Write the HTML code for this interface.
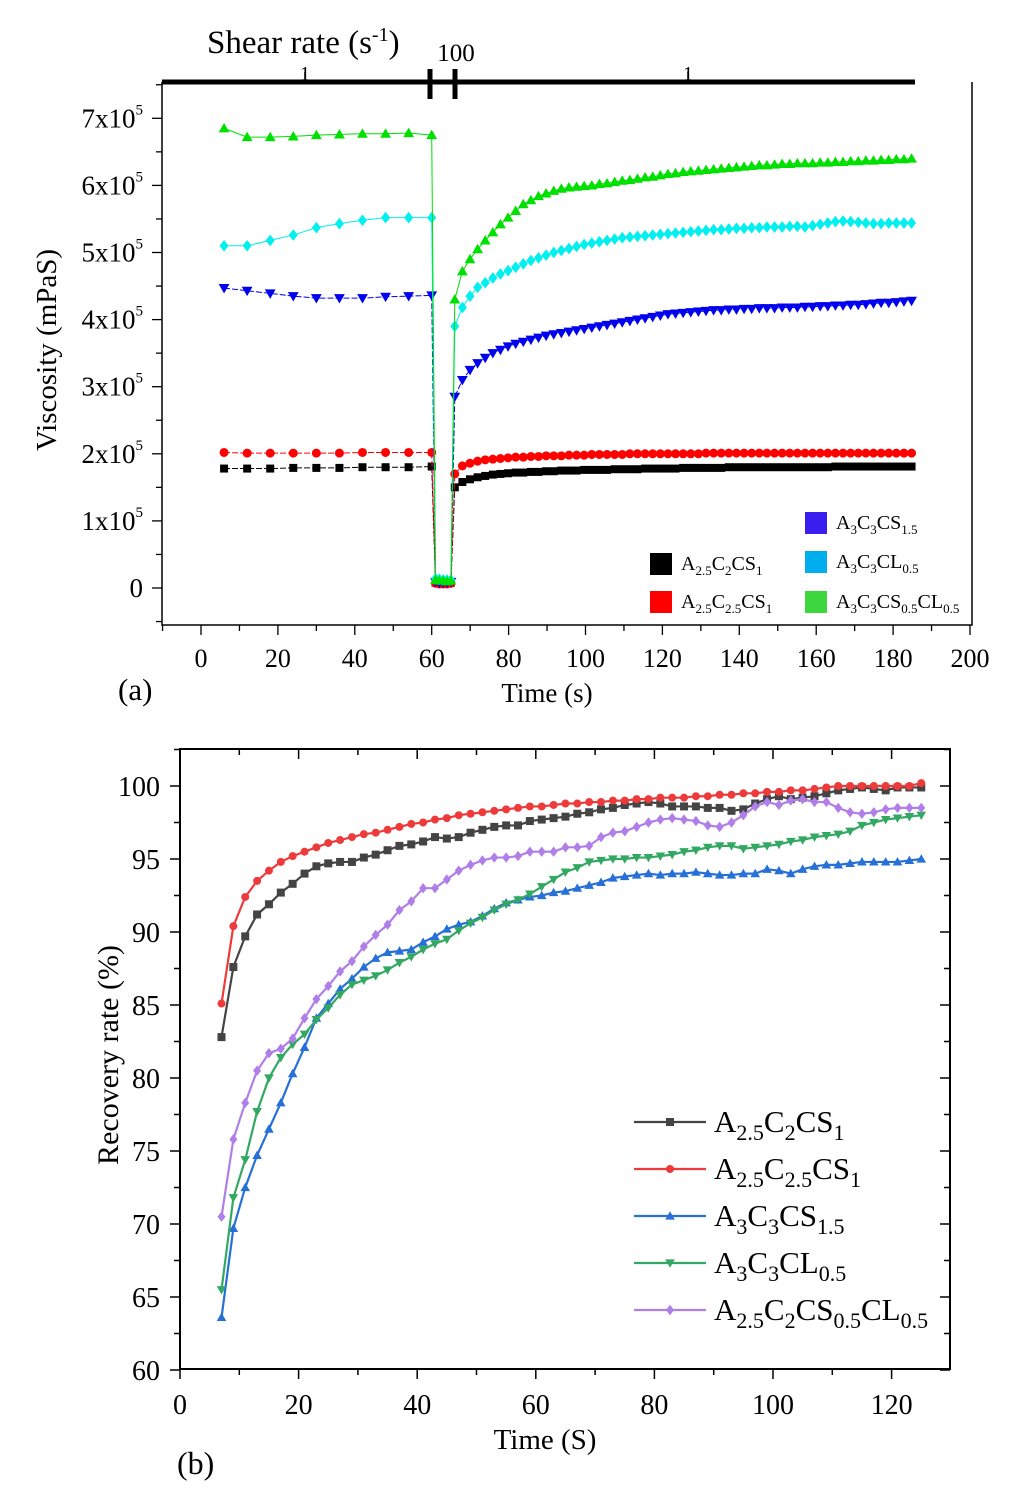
<!DOCTYPE html>
<html><head><meta charset="utf-8">
<style>
html,body{margin:0;padding:0;background:#fff;}
svg{display:block;font-family:"Liberation Serif",serif;}
</style></head>
<body>
<svg id="fig" width="1032" height="1502" viewBox="0 0 1032 1502" xmlns="http://www.w3.org/2000/svg">
<g id="ga"></g>
<g id="gb"></g>
</svg>
<script>
// ---------- Chart (a) data ----------
const aPreTimes = [6,12,18,24,30,36,42,48,54,60];
const aLowTimes = [61,62,63,64,65];
const aRecStart = 66, aRecStep = 1.98;
const aNames = ["A2.5C2CS1","A2.5C2.5CS1","A3C3CS1.5","A3C3CL0.5","A3C3CS0.5CL0.5"];
const aBlackPre = [1.78,1.78,1.78,1.79,1.79,1.79,1.80,1.80,1.80,1.81];
const aRedPre = [2.02,2.01,2.01,2.01,2.01,2.01,2.02,2.02,2.02,2.02];
const aBluePre = [4.47,4.43,4.39,4.35,4.32,4.32,4.32,4.34,4.35,4.36];
const aCyanPre = [5.10,5.10,5.18,5.26,5.37,5.43,5.48,5.52,5.52,5.52];
const aGreenPre = [6.85,6.72,6.72,6.73,6.75,6.76,6.77,6.77,6.78,6.75];
const aBlackLow = [0.08,0.07,0.07,0.07,0.08];
const aRedLow = [0.07,0.06,0.06,0.06,0.07];
const aBlueLow = [0.09,0.08,0.08,0.08,0.09];
const aCyanLow = [0.14,0.13,0.12,0.12,0.12];
const aGreenLow = [0.12,0.11,0.11,0.10,0.11];
const aBlackRec = [1.50,1.58,1.62,1.65,1.67,1.69,1.70,1.71,1.72,1.72,1.73,1.73,1.74,1.74,1.75,1.75,1.75,1.76,1.76,1.76,1.76,1.77,1.77,1.77,1.77,1.78,1.78,1.78,1.78,1.78,1.79,1.79,1.79,1.79,1.79,1.79,1.80,1.80,1.80,1.80,1.80,1.80,1.80,1.80,1.80,1.80,1.80,1.80,1.80,1.80,1.81,1.81,1.81,1.81,1.81,1.81,1.81,1.81,1.81,1.81,1.81];
const aRedRec = [1.70,1.82,1.86,1.89,1.91,1.92,1.93,1.94,1.95,1.95,1.96,1.96,1.97,1.97,1.97,1.98,1.98,1.98,1.99,1.99,1.99,1.99,1.99,2.00,2.00,2.00,2.00,2.00,2.00,2.00,2.00,2.00,2.00,2.01,2.01,2.01,2.01,2.01,2.01,2.01,2.01,2.01,2.01,2.01,2.01,2.01,2.01,2.01,2.01,2.01,2.01,2.01,2.01,2.01,2.01,2.01,2.01,2.01,2.01,2.01,2.01];
const aBlueRec = [2.85,3.10,3.25,3.35,3.43,3.50,3.55,3.60,3.64,3.67,3.70,3.73,3.76,3.78,3.80,3.82,3.84,3.86,3.88,3.90,3.92,3.94,3.96,3.98,4.00,4.02,4.04,4.06,4.08,4.09,4.10,4.11,4.12,4.13,4.14,4.14,4.15,4.15,4.16,4.16,4.17,4.17,4.17,4.18,4.18,4.18,4.19,4.19,4.20,4.20,4.21,4.21,4.22,4.22,4.23,4.24,4.25,4.25,4.26,4.27,4.28];
const aCyanRec = [3.90,4.18,4.35,4.48,4.55,4.62,4.68,4.73,4.78,4.83,4.88,4.92,4.96,5.00,5.03,5.06,5.09,5.12,5.14,5.16,5.18,5.20,5.22,5.23,5.24,5.25,5.26,5.27,5.28,5.29,5.30,5.31,5.32,5.33,5.34,5.34,5.35,5.36,5.36,5.37,5.37,5.38,5.38,5.38,5.39,5.39,5.38,5.40,5.42,5.44,5.46,5.47,5.46,5.45,5.44,5.43,5.43,5.44,5.44,5.44,5.44];
const aGreenRec = [4.30,4.72,4.90,5.05,5.18,5.30,5.42,5.52,5.62,5.72,5.78,5.84,5.88,5.92,5.95,5.97,5.98,5.99,6.00,6.02,6.03,6.05,6.07,6.08,6.10,6.12,6.13,6.15,6.17,6.18,6.20,6.21,6.22,6.23,6.24,6.25,6.26,6.27,6.28,6.29,6.30,6.30,6.31,6.32,6.32,6.33,6.33,6.33,6.34,6.34,6.35,6.35,6.36,6.36,6.37,6.37,6.38,6.38,6.39,6.39,6.40];
const aXTicks = [0,20,40,60,80,100,120,140,160,180,200];
const aYTicks = [0,1,2,3,4,5,6,7];

// ---------- Chart (b) data ----------
const bStart = 7, bStep = 2;
const bBlack = [82.8,87.6,89.7,91.2,91.9,92.7,93.3,94.0,94.5,94.7,94.8,94.8,95.1,95.3,95.6,95.9,96.0,96.2,96.5,96.4,96.5,96.8,97.0,97.2,97.3,97.3,97.6,97.7,97.8,97.9,98.1,98.2,98.4,98.5,98.7,98.8,98.9,98.8,98.6,98.6,98.6,98.5,98.5,98.3,98.4,98.8,99.1,99.3,99.1,99.2,99.3,99.5,99.7,99.8,99.9,99.8,99.7,99.9,99.9,99.9];
const bRed = [85.1,90.4,92.4,93.5,94.2,94.8,95.2,95.5,95.8,96.1,96.3,96.5,96.7,96.8,97.0,97.2,97.4,97.5,97.7,97.8,98.0,98.1,98.2,98.3,98.4,98.5,98.6,98.6,98.7,98.8,98.8,98.9,98.9,99.0,99.0,99.1,99.1,99.2,99.2,99.2,99.3,99.3,99.4,99.4,99.5,99.5,99.6,99.6,99.7,99.7,99.8,99.9,100.0,100.0,100.0,100.0,100.0,100.0,100.0,100.2];
const bBlue = [63.6,69.7,72.5,74.7,76.5,78.3,80.3,82.1,84.1,85.1,86.1,86.8,87.6,88.2,88.6,88.7,88.8,89.3,89.7,90.2,90.5,90.7,91.1,91.6,92.0,92.2,92.4,92.5,92.7,92.8,93.0,93.2,93.4,93.7,93.8,93.9,94.0,93.9,94.0,94.0,94.1,94.0,93.9,93.9,94.0,94.0,94.3,94.2,94.0,94.3,94.5,94.6,94.6,94.7,94.8,94.8,94.8,94.8,94.9,95.0];
const bGreen = [65.5,71.8,74.4,77.7,80.0,81.4,82.3,83.0,84.0,84.8,85.7,86.4,86.7,87.0,87.4,87.9,88.3,88.8,89.2,89.5,90.1,90.6,91.0,91.5,91.9,92.2,92.6,93.1,93.6,94.1,94.4,94.8,94.9,95.0,95.0,95.1,95.1,95.2,95.3,95.5,95.6,95.8,95.9,95.9,95.7,95.8,95.9,96.0,96.2,96.3,96.5,96.6,96.7,96.9,97.3,97.5,97.7,97.8,97.9,98.0];
const bPurple = [70.5,75.8,78.3,80.5,81.7,82.0,82.7,84.1,85.4,86.3,87.3,88.0,89.0,89.8,90.5,91.5,92.1,93.0,93.0,93.6,94.2,94.6,94.9,95.1,95.1,95.2,95.5,95.5,95.5,95.8,95.8,95.9,96.5,96.8,96.9,97.2,97.5,97.7,97.8,97.7,97.6,97.3,97.2,97.5,98.0,98.6,98.9,98.7,99.0,99.1,98.9,98.9,98.5,98.2,98.1,98.2,98.4,98.5,98.5,98.5];
const bXTicks = [0,20,40,60,80,100,120];
const bYTicks = [60,65,70,75,80,85,90,95,100];

const NS = "http://www.w3.org/2000/svg";
function mk(parent, tag, attrs){ const e=document.createElementNS(NS,tag); for(const k in attrs) e.setAttribute(k,attrs[k]); parent.appendChild(e); return e; }
function marker(g, shape, cx, cy, r, fill){
  let e;
  if(shape==="square") e=mk(g,"rect",{x:cx-r,y:cy-r,width:2*r,height:2*r,fill:fill});
  else if(shape==="circle") e=mk(g,"circle",{cx:cx,cy:cy,r:r,fill:fill});
  else if(shape==="up") e=mk(g,"polygon",{points:`${cx},${cy-r*1.2} ${cx-r*1.2},${cy+r*0.9} ${cx+r*1.2},${cy+r*0.9}`,fill:fill});
  else if(shape==="down") e=mk(g,"polygon",{points:`${cx},${cy+r*1.2} ${cx-r*1.2},${cy-r*0.9} ${cx+r*1.2},${cy-r*0.9}`,fill:fill});
  else e=mk(g,"polygon",{points:`${cx},${cy-r*1.3} ${cx+r},${cy} ${cx},${cy+r*1.3} ${cx-r},${cy}`,fill:fill});
  return e;
}

// ===== Chart A =====
(function(){
  const g=document.getElementById("ga");
  const L=162,R=972,T=82,B=625;
  const xa=t=>201+(t)*3.845;
  const ya=v=>588-v*67.1;
  const box=mk(g,"path",{d:`M${L},${T} V${B} H${R} V${T}`,fill:"none",stroke:"#000","stroke-width":1.5});
  
  
  const ta=mk(g,"line",{x1:L,y1:82,x2:915,y2:82,stroke:"#000","stroke-width":5});
  
  
  [430,455].forEach(x=>{ const b=mk(g,"line",{x1:x,y1:69,x2:x,y2:99,stroke:"#000","stroke-width":5});
    
     });
  [305,688].forEach(x=>{ mk(g,"line",{x1:x,y1:72,x2:x,y2:82,stroke:"#000","stroke-width":1.5});
    const t=mk(g,"text",{x:x,y:80,"font-size":20,"text-anchor":"middle"}); t.textContent="1";
    
     });
  const t100=mk(g,"text",{x:456,y:61,"font-size":25,"text-anchor":"middle"}); t100.textContent="100";
  
  
  const st=mk(g,"text",{x:207,y:53,"font-size":33}); st.innerHTML='Shear rate (s<tspan dy="-12" font-size="20">-1</tspan><tspan dy="12">)</tspan>';
  
  
  for(let v=-0.5; v<=7.5; v+=0.5){ const y=ya(v); if(y<T||y>B) continue;
    const maj=Math.abs(v-Math.round(v))<1e-6;
    mk(g,"line",{x1:L-(maj?10:6),y1:y,x2:L,y2:y,stroke:"#000","stroke-width":1.3}); }
  aYTicks.forEach(v=>{ const t=mk(g,"text",{x:v===0?143:143,y:ya(v)+9,"font-size":27,"text-anchor":"end"});
    t.innerHTML = v===0 ? "0" : `${v}x10<tspan dy="-13" font-size="15">5</tspan>`;
    
     });
  for(let v=-10; v<=200; v+=10){ const x=xa(v); if(x<L-1||x>R+1) continue;
    mk(g,"line",{x1:x,y1:B,x2:x,y2:B+(v%20===0?10:6),stroke:"#000","stroke-width":1.3}); }
  aXTicks.forEach(v=>{ const t=mk(g,"text",{x:xa(v),y:667,"font-size":26,"text-anchor":"middle"}); t.textContent=v;
    
     });
  const xt=mk(g,"text",{x:547,y:702,"font-size":27,"text-anchor":"middle"}); xt.textContent="Time (s)";
  
  
  const lab=mk(g,"text",{x:118,y:700,"font-size":31}); lab.textContent="(a)";
  
  
  const yt=mk(g,"text",{x:0,y:0,"font-size":29,"text-anchor":"middle",transform:"translate(56,350) rotate(-90)"}); yt.textContent="Viscosity (mPaS)";
  
  
  const series=[
    {pre:aBlackPre,low:aBlackLow,rec:aBlackRec,c:"#000",s:"square",r:4},
    {pre:aRedPre,low:aRedLow,rec:aRedRec,c:"#ff0000",s:"circle",r:4.5},
    {pre:aBluePre,low:aBlueLow,rec:aBlueRec,c:"#0000ee",s:"down",r:4.5},
    {pre:aCyanPre,low:aCyanLow,rec:aCyanRec,c:"#00f0f0",s:"diamond",r:4.5},
    {pre:aGreenPre,low:aGreenLow,rec:aGreenRec,c:"#00e000",s:"up",r:4.5}];
  series.forEach((sr,i)=>{
    const sg=mk(g,"g",{});
    
    
    const pts=[];
    aPreTimes.forEach((t,j)=>pts.push([xa(t),ya(sr.pre[j])]));
    aLowTimes.forEach((t,j)=>pts.push([xa(t),ya(sr.low[j])]));
    sr.rec.forEach((v,j)=>pts.push([xa(aRecStart+aRecStep*j),ya(v)]));
    const ln=mk(sg,"polyline",{points:pts.map(p=>p.join(",")).join(" "),fill:"none",stroke:sr.c,"stroke-width":1,"stroke-dasharray":i<3?"6,2":"none"});
    
    
    pts.forEach(p=>{ const m=marker(sg,sr.s,p[0],p[1],sr.r,sr.c);
      
       });
  });
  const leg=[[650,553,"#000",'A<tspan dy="5" font-size="13">2.5</tspan><tspan dy="-5">C</tspan><tspan dy="5" font-size="13">2</tspan><tspan dy="-5">CS</tspan><tspan dy="5" font-size="13">1</tspan>'],
    [650,591,"#ff0000",'A<tspan dy="5" font-size="13">2.5</tspan><tspan dy="-5">C</tspan><tspan dy="5" font-size="13">2.5</tspan><tspan dy="-5">CS</tspan><tspan dy="5" font-size="13">1</tspan>'],
    [805,512,"#3a1ef0",'A<tspan dy="5" font-size="13">3</tspan><tspan dy="-5">C</tspan><tspan dy="5" font-size="13">3</tspan><tspan dy="-5">CS</tspan><tspan dy="5" font-size="13">1.5</tspan>'],
    [805,551,"#00aeef",'A<tspan dy="5" font-size="13">3</tspan><tspan dy="-5">C</tspan><tspan dy="5" font-size="13">3</tspan><tspan dy="-5">CL</tspan><tspan dy="5" font-size="13">0.5</tspan>'],
    [805,591,"#3ed63e",'A<tspan dy="5" font-size="13">3</tspan><tspan dy="-5">C</tspan><tspan dy="5" font-size="13">3</tspan><tspan dy="-5">CS</tspan><tspan dy="5" font-size="13">0.5</tspan><tspan dy="-5">CL</tspan><tspan dy="5" font-size="13">0.5</tspan>']];
  leg.forEach(l=>{ const lg=mk(g,"g",{});
    
    
    mk(lg,"rect",{x:l[0],y:l[1],width:22,height:22,fill:l[2]});
    const t=mk(lg,"text",{x:l[0]+31,y:l[1]+17,"font-size":20}); t.innerHTML=l[3]; });
})();

// ===== Chart B =====
(function(){
  const g=document.getElementById("gb");
  const L=180,R=950,T=749,B=1369;
  const xb=t=>180+t*5.93;
  const yb=v=>786+(100-v)*14.6;
  const box=mk(g,"rect",{x:L,y:T,width:R-L,height:B-T,fill:"none",stroke:"#000","stroke-width":2});
  
  
  for(let v=0; v<=125; v+=10){ const x=xb(v); const maj=v%20===0;
    mk(g,"line",{x1:x,y1:B,x2:x,y2:B+(maj?10:6),stroke:"#000","stroke-width":1.5});
    mk(g,"line",{x1:x,y1:T,x2:x,y2:T+(maj?10:6),stroke:"#000","stroke-width":1.5}); }
  for(let v=60; v<=102.5; v+=2.5){ const y=yb(v); const maj=v%5===0;
    mk(g,"line",{x1:L-(maj?10:6),y1:y,x2:L,y2:y,stroke:"#000","stroke-width":1.5});
    mk(g,"line",{x1:R-(maj?10:6),y1:y,x2:R,y2:y,stroke:"#000","stroke-width":1.5}); }
  bXTicks.forEach(v=>{ const t=mk(g,"text",{x:xb(v),y:1414,"font-size":28,"text-anchor":"middle"}); t.textContent=v;
    
     });
  bYTicks.forEach(v=>{ const t=mk(g,"text",{x:160,y:yb(v)+10,"font-size":28,"text-anchor":"end"}); t.textContent=v;
    
     });
  const xt=mk(g,"text",{x:545,y:1449,"font-size":29,"text-anchor":"middle"}); xt.textContent="Time (S)";
  
  
  const lab=mk(g,"text",{x:177,y:1474,"font-size":32}); lab.textContent="(b)";
  
  
  const yt=mk(g,"text",{x:0,y:0,"font-size":30,"text-anchor":"middle",transform:"translate(118,1055) rotate(-90)"}); yt.textContent="Recovery rate (%)";
  
  
  const series=[[bBlack,"#444","square"],[bRed,"#ee3a3a","circle"],[bBlue,"#2670d8","up"],[bGreen,"#33a862","down"],[bPurple,"#b07ee8","diamond"]];
  const names=["A2.5C2CS1","A2.5C2.5CS1","A3C3CS1.5","A3C3CL0.5","A2.5C2CS0.5CL0.5"];
  series.forEach((sr,i)=>{
    const sg=mk(g,"g",{});
    
    
    const pts=sr[0].map((v,j)=>[xb(bStart+bStep*j),yb(v)]);
    mk(sg,"polyline",{points:pts.map(p=>p.join(",")).join(" "),fill:"none",stroke:sr[1],"stroke-width":2.2});
    pts.forEach(p=>{ const m=marker(sg,sr[2],p[0],p[1],4,sr[1]);
      
       });
  });
  const legTxt=[
    'A<tspan dy="8" font-size="22">2.5</tspan><tspan dy="-8">C</tspan><tspan dy="8" font-size="22">2</tspan><tspan dy="-8">CS</tspan><tspan dy="8" font-size="22">1</tspan>',
    'A<tspan dy="8" font-size="22">2.5</tspan><tspan dy="-8">C</tspan><tspan dy="8" font-size="22">2.5</tspan><tspan dy="-8">CS</tspan><tspan dy="8" font-size="22">1</tspan>',
    'A<tspan dy="8" font-size="22">3</tspan><tspan dy="-8">C</tspan><tspan dy="8" font-size="22">3</tspan><tspan dy="-8">CS</tspan><tspan dy="8" font-size="22">1.5</tspan>',
    'A<tspan dy="8" font-size="22">3</tspan><tspan dy="-8">C</tspan><tspan dy="8" font-size="22">3</tspan><tspan dy="-8">CL</tspan><tspan dy="8" font-size="22">0.5</tspan>',
    'A<tspan dy="8" font-size="22">2.5</tspan><tspan dy="-8">C</tspan><tspan dy="8" font-size="22">2</tspan><tspan dy="-8">CS</tspan><tspan dy="8" font-size="22">0.5</tspan><tspan dy="-8">CL</tspan><tspan dy="8" font-size="22">0.5</tspan>'];
  series.forEach((sr,i)=>{ const y=1122+i*47;
    const lg=mk(g,"g",{});
    
    
    mk(lg,"line",{x1:634,y1:y,x2:706,y2:y,stroke:sr[1],"stroke-width":2.2});
    marker(lg,sr[2],670,y,4,sr[1]);
    const t=mk(lg,"text",{x:714,y:y+10,"font-size":31}); t.innerHTML=legTxt[i]; });
})();
</script>
</body></html>
